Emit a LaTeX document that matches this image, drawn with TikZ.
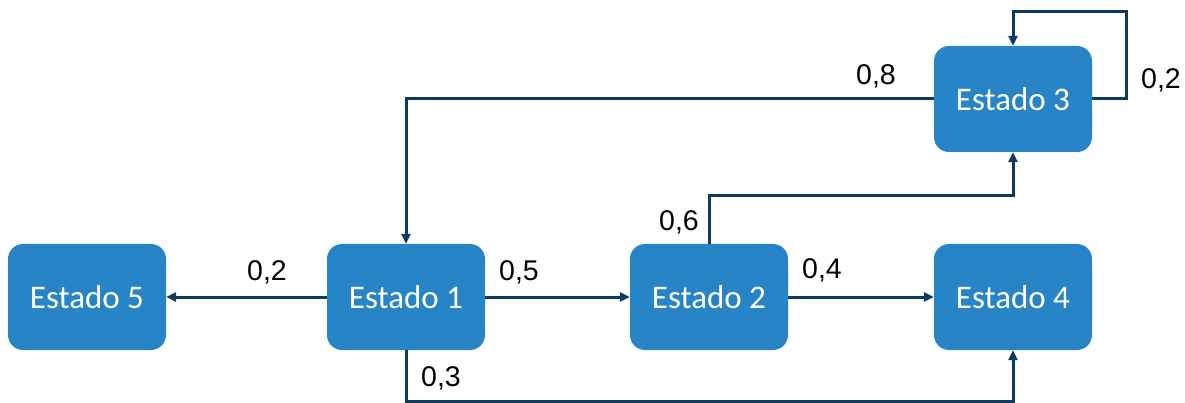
\documentclass[tikz,border=0pt]{standalone}
\usepackage{fontspec}
\setmainfont{Liberation Sans}
\newfontfamily\boxfont{Carlito}
\usetikzlibrary{arrows.meta}
\definecolor{boxblue}{HTML}{2784C7}
\definecolor{linenavy}{HTML}{0F3A5F}
\tikzset{
  state/.style={draw=none, fill=boxblue, rounded corners=15pt, minimum width=158pt, minimum height=106pt, inner sep=0pt, text=white, font=\boxfont\fontsize{33}{33}\selectfont},
  conn/.style={draw=linenavy, line width=3pt, -{Triangle[length=10pt,width=9pt]}},
  lbl/.style={font=\fontsize{28.5}{28.5}\selectfont, text=black, inner sep=0pt}
}
\begin{document}
\begin{tikzpicture}[x=1pt,y=-1pt]
\useasboundingbox (0,0) rectangle (1185,403);
\node[state] (e5) at (87,297) {Estado 5};
\node[state] (e1) at (406,297) {Estado 1};
\node[state] (e2) at (709,297) {Estado 2};
\node[state] (e4) at (1013,297) {Estado 4};
\node[state] (e3) at (1013,99) {Estado 3};
\coordinate (c13) at (406,401);
\coordinate (c14) at (1013,401);
\coordinate (c23) at (709,196);
\coordinate (c32) at (1013,196);
\coordinate (c31) at (406,99);
\coordinate (s1) at (1126,99);
\coordinate (s2) at (1126,12);
\coordinate (s3) at (1013,12);
\draw[conn] (e1.west) -- (e5.east);
\draw[conn] (e1.east) -- (e2.west);
\draw[conn] (e2.east) -- (e4.west);
\draw[conn] (e1.south) -- (c13) -- (c14) -- (e4.south);
\draw[conn] (e2.north) -- (c23) -- (c32) -- (e3.south);
\draw[conn] (e3.west) -- (c31) -- (e1.north);
\draw[conn] (e3.east) -- (s1) -- (s2) -- (s3) -- (e3.north);
\node[lbl] (l12) at (267,272) {0,2};
\node[lbl] (l5) at (519,272) {0,5};
\node[lbl] (l4) at (822,270) {0,4};
\node[lbl] (l3) at (441,378) {0,3};
\node[lbl] (l6) at (679,222) {0,6};
\node[lbl] (l8) at (876,76) {0,8};
\node[lbl] (l2) at (1161,80) {0,2};
\end{tikzpicture}
\end{document}
